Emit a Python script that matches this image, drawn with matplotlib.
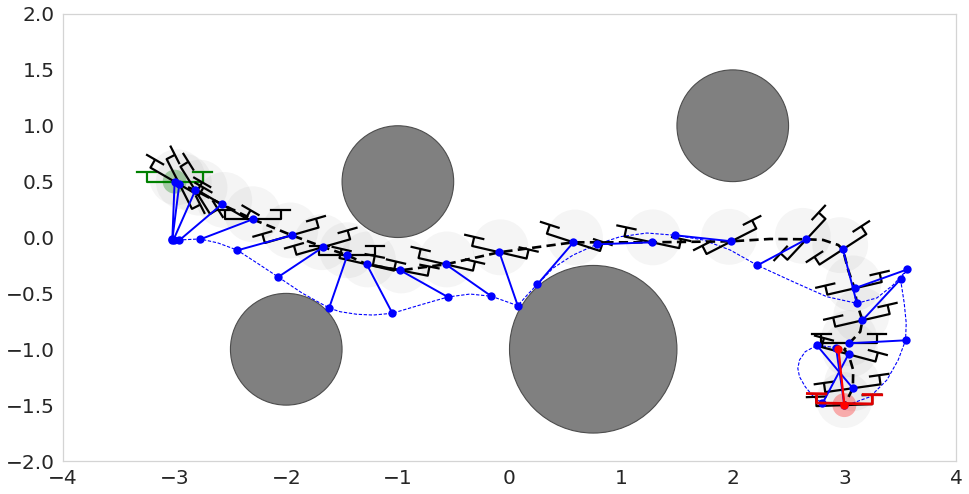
import numpy as np
import matplotlib
matplotlib.use('Agg')
import matplotlib.pyplot as plt
from matplotlib.patches import Circle

# obstacles
obs_x = [2.0, -1.0, -2.0, 0.75]
obs_y = [1.0, 0.5, -1.0, -1.0]
obs_r = [0.5, 0.5, 0.5, 0.75]

# quadrotor states
quad_x = [-3.0, -2.958, -2.815, -2.578, -2.30, -1.951, -1.668, -1.453, -1.279, -0.978, -0.571, -0.091,
          0.573, 1.275, 1.988, 2.66, 2.987, 3.091, 3.162, 3.043, 3.037, 3.076, 3.0]
quad_y = [0.5, 0.479, 0.422, 0.297, 0.163, 0.02, -0.085, -0.159, -0.24, -0.294, -0.24, -0.132,
          -0.043, -0.043, -0.034, -0.016, -0.106, -0.455, -0.741, -0.947, -1.045, -1.349, -1.5]
quad_theta = [-30, -63, -58, -30, 0, 16, 16, 0, -13, -11, -13, -13,
              -18, -12, 27, 47, 33, 13, 13, 0, -15, 8, 2]

# load positions
load_x = [-3.021, -3.02, -3.01, -2.958, -2.77, -2.438, -2.076, -1.616, -1.049, -0.548, -0.162, 0.074,
          0.25, 0.782, 1.484, 2.221, 3.112, 3.565, 3.503, 3.548, 2.804, 2.754, 2.926]
load_y = [-0.025, -0.015, -0.02, -0.025, -0.016, -0.115, -0.356, -0.631, -0.678, -0.535, -0.526, -0.61,
          -0.419, -0.061, 0.02, -0.249, -0.589, -0.285, -0.374, -0.92, -1.484, -0.965, -0.989]

# dashed paths
quad_path_x = [-3.0, -2.815, -2.578, -2.30, -1.951, -1.668, -1.453, -1.279, -0.978, -0.571, -0.091, 0.573,
               1.275, 1.988, 2.335, 2.66, 2.81, 2.945, 2.987, 3.034, 3.091, 3.112, 3.162, 3.142, 3.043,
               3.0, 3.037, 3.079, 3.076, 3.0]
quad_path_y = [0.5, 0.422, 0.297, 0.163, 0.02, -0.085, -0.159, -0.24, -0.294, -0.24, -0.132, -0.043,
               -0.043, -0.034, -0.013, -0.016, -0.022, -0.067, -0.106, -0.291, -0.455, -0.589, -0.741,
               -0.843, -0.947, -1.005, -1.045, -1.186, -1.349, -1.5]
load_path_x = [-3.014, -2.961, -2.772, -2.611, -2.441, -2.262, -2.073, -1.858, -1.616, -1.518, -1.368, -1.222,
               -1.049, -0.801, -0.55, -0.353, -0.162, 0.074, 0.158, 0.25, 0.391, 0.57, 0.782, 0.991, 1.23,
               1.484, 1.735, 1.977, 2.221, 2.541, 2.843, 3.112, 3.291, 3.437, 3.565, 3.503, 3.536, 3.554,
               3.548, 3.482, 3.381, 3.231, 3.052, 2.804, 2.723, 2.649, 2.598, 2.583, 2.598, 2.649, 2.754, 2.933]
load_path_y = [-0.022, -0.022, -0.013, -0.049, -0.112, -0.228, -0.353, -0.497, -0.631, -0.664, -0.687, -0.694,
               -0.678, -0.604, -0.532, -0.506, -0.526, -0.61, -0.515, -0.419, -0.273, -0.157, -0.061, 0.007, 0.04,
               0.02, -0.022, -0.112, -0.249, -0.396, -0.53, -0.589, -0.541, -0.425, -0.285, -0.374, -0.586, -0.765,
               -0.92, -1.096, -1.275, -1.425, -1.49, -1.484, -1.425, -1.335, -1.246, -1.171, -1.096, -1.022, -0.965, -0.986]

start_x, start_y = -3.0, 0.5
goal_x, goal_y = 3.0, -1.5
goal_load_x, goal_load_y = 2.947, -0.998

ARM = 0.25
STEM = 0.083
ROTOR = 0.083
xticks = [-4, -3, -2, -1, 0, 1, 2, 3, 4]
yticks = [-2.0, -1.5, -1.0, -0.5, 0.0, 0.5, 1.0, 1.5, 2.0]


def draw_quad(ax, x, y, theta, color, lw, z):
    t = np.deg2rad(theta)
    u = np.array([np.cos(t), np.sin(t)])
    n = np.array([-np.sin(t), np.cos(t)])
    c = np.array([x, y])
    # body with two stems
    pts = np.array([c - ARM*u + STEM*n, c - ARM*u, c + ARM*u, c + ARM*u + STEM*n])
    ax.plot(pts[:, 0], pts[:, 1], color=color, lw=lw, zorder=z, solid_capstyle='butt')
    # rotors
    for s in (-1, 1):
        a = c + s*ARM*u + STEM*n - ROTOR*u
        b = c + s*ARM*u + STEM*n + ROTOR*u
        ax.plot([a[0], b[0]], [a[1], b[1]], color=color, lw=lw, zorder=z)


fig = plt.figure(figsize=(9.69, 4.94), dpi=100)
ax = fig.add_axes([63/969, 1 - 461/494, (956 - 63)/969, (461 - 14)/494])

for x, y, r in zip(obs_x, obs_y, obs_r):
    ax.add_patch(Circle((x, y), r, facecolor='#808080', edgecolor='#4d4d4d', lw=0.8, zorder=3))

for x, y, th in zip(quad_x, quad_y, quad_theta):
    t = np.deg2rad(th)
    ax.add_patch(Circle((x - 0.045*np.sin(t), y + 0.045*np.cos(t)), 0.25,
                        facecolor='gray', edgecolor='none', alpha=0.08, zorder=1))

ax.add_patch(Circle((start_x, start_y), 0.107, facecolor='green', edgecolor='none', alpha=0.3, zorder=2))
ax.add_patch(Circle((goal_x, goal_y), 0.107, facecolor='red', edgecolor='none', alpha=0.3, zorder=2))

draw_quad(ax, start_x, start_y, 0, 'green', 1.6, 4)
for x, y, th in zip(quad_x, quad_y, quad_theta):
    draw_quad(ax, x, y, th, 'black', 1.6, 5)

ax.plot(quad_path_x, quad_path_y, color='black', lw=1.9, ls=(0, (3.5, 2)), zorder=5)
ax.plot(load_path_x, load_path_y, color='blue', lw=0.8, ls=(0, (3, 1.5)), zorder=4)

for qx, qy, lx, ly in zip(quad_x, quad_y, load_x, load_y):
    ax.plot([qx, lx], [qy, ly], color='blue', lw=1.4, zorder=6)
ax.plot(quad_x, quad_y, 'o', color='blue', ms=6, mew=0, zorder=7)
ax.plot(load_x, load_y, 'o', color='blue', ms=6, mew=0, zorder=7)

draw_quad(ax, goal_x, goal_y + 0.015, -1, '#e00000', 2.0, 8)
ax.plot([goal_x, goal_load_x], [goal_y, goal_load_y], color='red', lw=1.6, zorder=8)
ax.plot([goal_x, goal_load_x], [goal_y, goal_load_y], 'o', color='red', ms=6, mew=0, zorder=9)

ax.set_xlim(-4, 4)
ax.set_ylim(-2, 2)
ax.set_xticks(xticks)
ax.set_yticks(yticks)
ax.tick_params(length=0, labelsize=14.5, labelcolor='#262626', pad=6)
for s in ax.spines.values():
    s.set_color('#d4d4d4')
    s.set_linewidth(0.9)

plt.savefig('out.png', dpi=100)
